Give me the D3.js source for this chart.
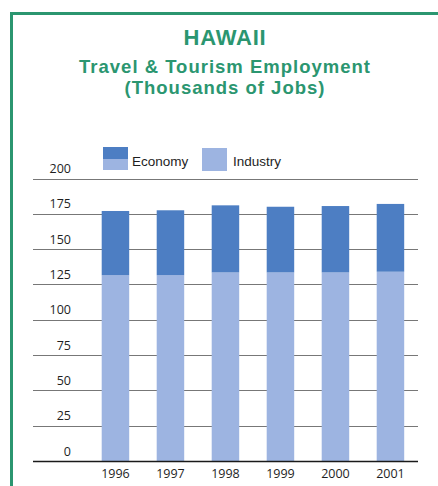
<!DOCTYPE html>
<html>
<head>
<meta charset="utf-8">
<script src="https://cdn.jsdelivr.net/npm/d3@7"></script>
<style>
  html, body { margin: 0; padding: 0; background: #ffffff; }
  svg { display: block; }
</style>
</head>
<body>
<svg id="chart" width="438" height="486"></svg>
<script>
// Hawaii travel & tourism employment, thousands of jobs
const years = ["1996", "1997", "1998", "1999", "2000", "2001"];
const industry = [131.5, 131.5, 133.5, 133.5, 133.5, 134];
const economy = [45.5, 46, 47.5, 46.5, 47, 48];
const seriesNames = ["Economy", "Industry"];
const yTicks = [0, 25, 50, 75, 100, 125, 150, 175, 200];

const W = 438, H = 486;
const green = "#2b9670";
const darkBlue = "#4d7ec3";
const lightBlue = "#9db4e1";

const svg = d3.select("#chart");

// frame
svg.append("path")
  .attr("d", `M11.5,${H + 5} V13.5 H${W + 5}`)
  .attr("fill", "none")
  .attr("stroke", green)
  .attr("stroke-width", 3);

// titles
const titles = [
  { text: "HAWAII", y: 45, size: 22, ls: 0.8 },
  { text: "Travel & Tourism Employment", y: 72.5, size: 18.5, ls: 1.0 },
  { text: "(Thousands of Jobs)", y: 94, size: 18.5, ls: 1.0 }
];
svg.selectAll("text.title").data(titles).enter().append("text")
  .attr("class", "title")
  .attr("x", 225)
  .attr("y", d => d.y)
  .attr("text-anchor", "middle")
  .attr("font-family", "'Liberation Sans', Arial, sans-serif")
  .attr("font-weight", 700)
  .attr("font-size", d => d.size)
  .attr("letter-spacing", d => d.ls)
  .attr("fill", green)
  .text(d => d.text);

// scales
const y = d3.scaleLinear().domain([0, 200]).range([461, 178.5]);
const x = d3.scaleBand().domain(years).range([74.2, 431.7])
  .paddingInner(0.5).paddingOuter(0.5);

const gridX0 = 33, gridX1 = 418;

// gridlines
svg.append("g").selectAll("line").data(yTicks.filter(t => t > 0)).enter().append("line")
  .attr("x1", gridX0).attr("x2", gridX1)
  .attr("y1", d => Math.round(y(d)) + 0.5)
  .attr("y2", d => Math.round(y(d)) + 0.5)
  .attr("stroke", "#777777")
  .attr("stroke-width", 1.1);

// y tick labels, sitting above each gridline
const yAxis = d3.axisLeft(y).tickValues(yTicks).tickSize(0).tickPadding(0);
const gy = svg.append("g").attr("transform", "translate(71,-10)").call(yAxis);
gy.select(".domain").remove();
gy.selectAll("text")
  .attr("font-family", "'Open Sans', sans-serif")
  .attr("font-size", 12.5)
  .attr("fill", "#1e1e1e");

// stacked bars
const rows = years.map((yr, i) => ({ year: yr, Industry: industry[i], Economy: economy[i] }));
const stack = d3.stack().keys(["Industry", "Economy"]);
const layers = stack(rows);
const colorOf = { Industry: lightBlue, Economy: darkBlue };

svg.append("g").selectAll("g").data(layers).enter().append("g")
  .attr("fill", d => colorOf[d.key])
  .selectAll("rect").data(d => d).enter().append("rect")
  .attr("x", d => x(d.data.year))
  .attr("width", x.bandwidth())
  .attr("y", d => y(d[1]))
  .attr("height", d => y(d[0]) - y(d[1]));

// baseline
svg.append("line")
  .attr("x1", gridX0).attr("x2", gridX1)
  .attr("y1", y(0) + 0.5).attr("y2", y(0) + 0.5)
  .attr("stroke", "#1a1a1a")
  .attr("stroke-width", 1.6);

// x axis labels
const xAxis = d3.axisBottom(x).tickSize(0).tickPadding(0);
const gx = svg.append("g").attr("transform", "translate(0,469.5)").call(xAxis);
gx.select(".domain").remove();
gx.selectAll("text")
  .attr("font-family", "'Open Sans', sans-serif")
  .attr("font-size", 12.5)
  .attr("fill", "#1e1e1e");

// legend
const legend = [
  { name: seriesNames[0], x: 103, tx: 132 },
  { name: seriesNames[1], x: 202, tx: 233 }
];
const lg = svg.append("g").selectAll("g").data(legend).enter().append("g");
lg.each(function(d) {
  const g = d3.select(this);
  if (d.name === "Economy") {
    g.append("rect").attr("x", d.x).attr("y", 147).attr("width", 25).attr("height", 12).attr("fill", darkBlue);
    g.append("rect").attr("x", d.x).attr("y", 159).attr("width", 25).attr("height", 11).attr("fill", lightBlue);
  } else {
    g.append("rect").attr("x", d.x).attr("y", 148).attr("width", 25).attr("height", 23).attr("fill", lightBlue);
  }
  g.append("text")
    .attr("x", d.tx).attr("y", 166)
    .attr("font-family", "'Liberation Sans', Arial, sans-serif")
    .attr("font-size", 13.5)
    .attr("fill", "#1e1e1e")
    .text(d.name);
});
</script>
</body>
</html>
